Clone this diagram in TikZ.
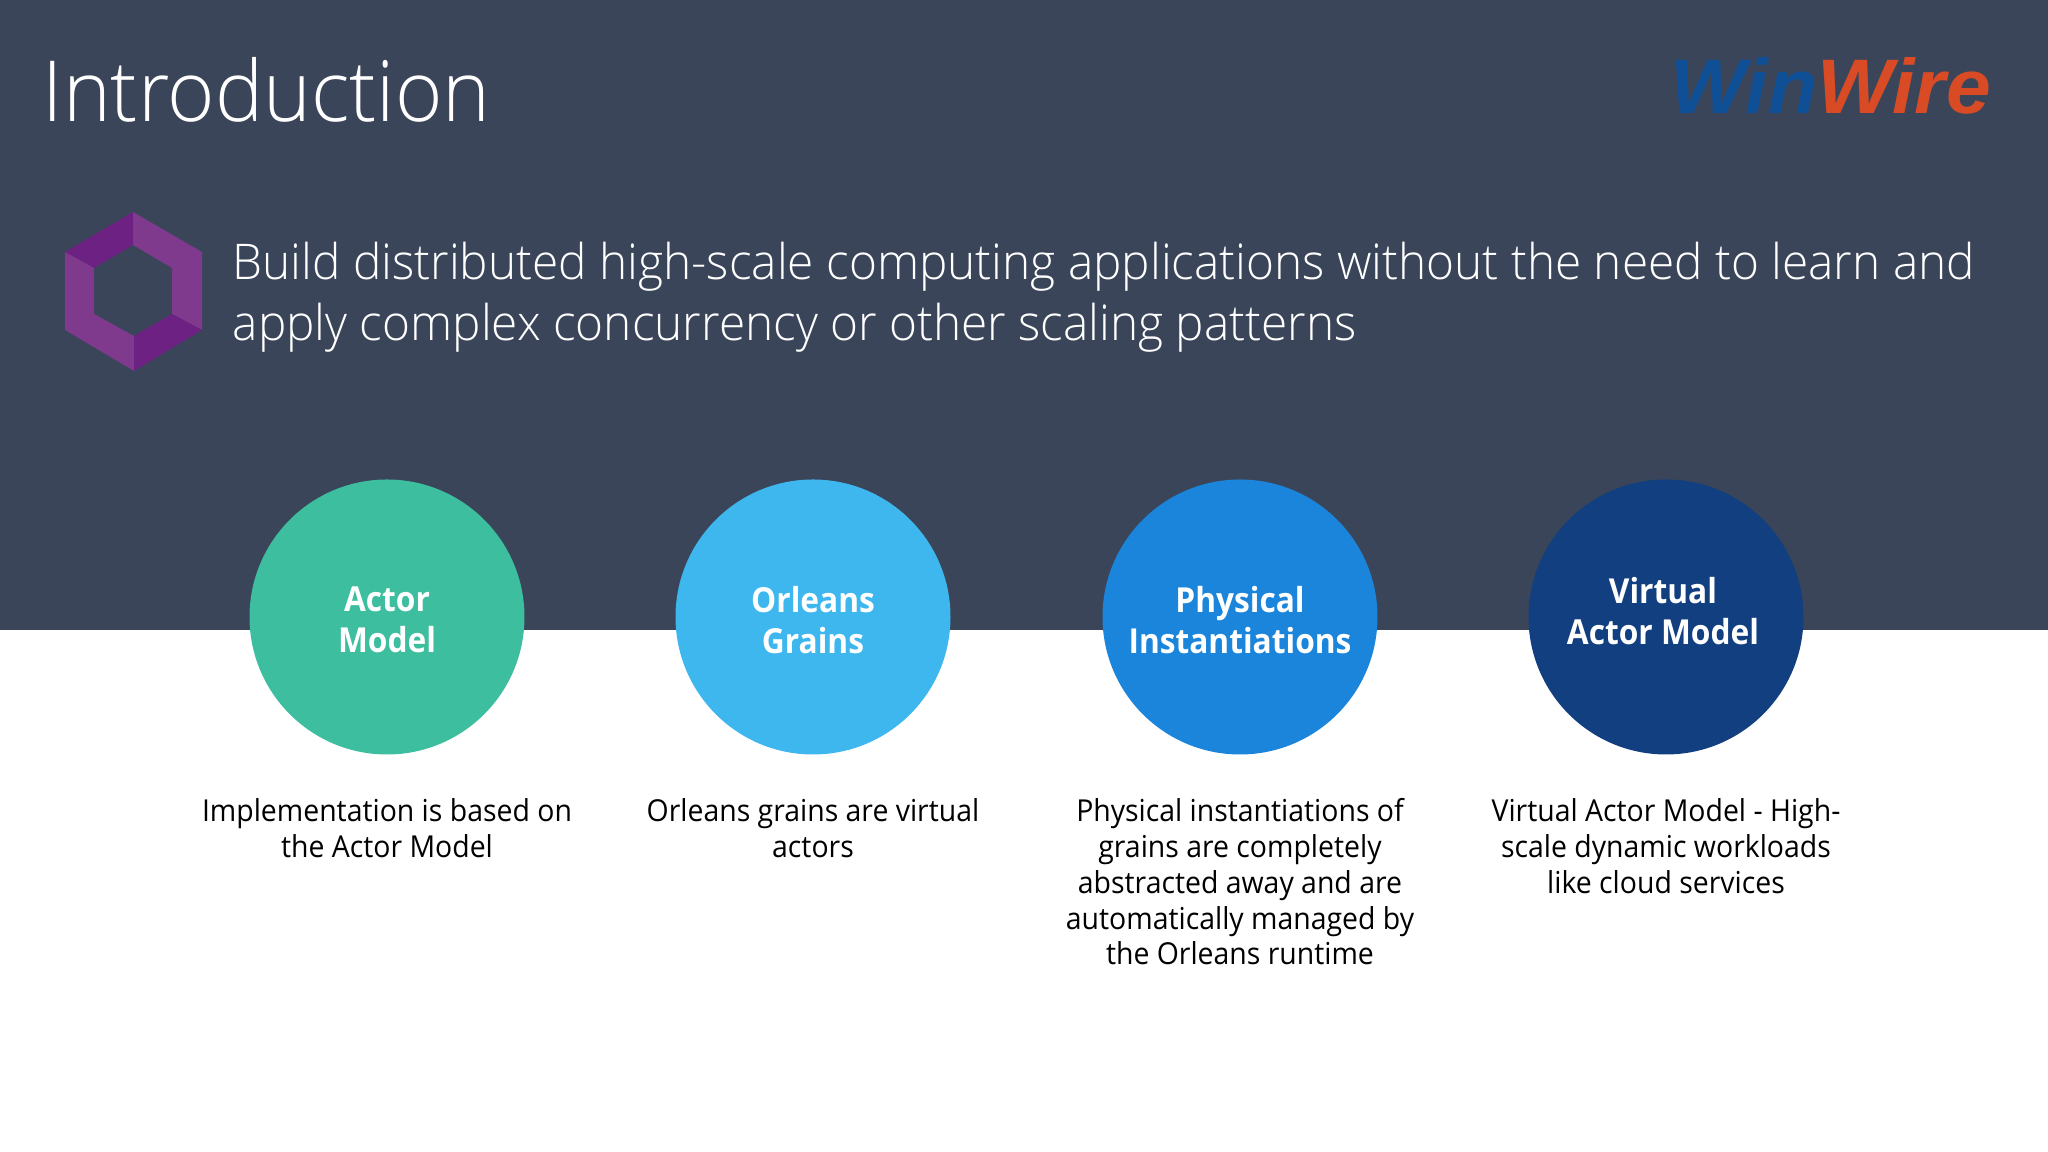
\documentclass[tikz,border=0pt]{standalone}
\usepackage{fontspec}
\setmainfont[FakeStretch=0.94]{Open Sans}
\newfontfamily\titlefont[FakeStretch=0.96]{Open Sans Light}
\newfontfamily\leadfont[FakeStretch=0.97]{Open Sans Light}
\newfontfamily\discfont[FakeStretch=0.92]{Open Sans}
\newfontfamily\logofont[FakeStretch=1.04]{Liberation Sans}
\usepackage{tikz}
\usetikzlibrary{positioning,calc}
\definecolor{bandblue}{HTML}{3A4559}
\definecolor{hexlight}{HTML}{7F3A8E}
\definecolor{hexdark}{HTML}{6C2183}
\definecolor{actorgreen}{HTML}{3CBE9F}
\definecolor{grainblue}{HTML}{3DB7EE}
\definecolor{physblue}{HTML}{1B85DB}
\definecolor{virtblue}{HTML}{123F80}
\definecolor{logoblue}{HTML}{0E4F96}
\definecolor{logored}{HTML}{D84B25}
\begin{document}
\begin{tikzpicture}[
	disc/.style={circle,minimum size=2.75cm,inner sep=0pt},
	disctext/.style={align=center,inner sep=0pt,text=white,font=\discfont\bfseries\fontsize{9.8}{11.6}\selectfont},
	caption/.style={align=center,anchor=north,font=\fontsize{8.6}{10.2}\selectfont,text=black}]
	\useasboundingbox (0,0) rectangle (20.48,11.52);
	\fill[white] (0,0) rectangle (20.48,11.52);
	\fill[bandblue] (0,5.22) rectangle (20.48,11.52);
	% hexagon
	\coordinate (ht) at (1.33,9.40);
	\coordinate (hur) at (2.02,9.00);
	\coordinate (hlr) at (2.02,8.22);
	\coordinate (hb) at (1.34,7.81);
	\coordinate (hll) at (0.65,8.22);
	\coordinate (hul) at (0.65,9.00);
	\coordinate (it) at (1.33,9.07);
	\coordinate (iur) at (1.72,8.84);
	\coordinate (ilr) at (1.72,8.38);
	\coordinate (ib) at (1.34,8.16);
	\coordinate (ill) at (0.94,8.38);
	\coordinate (iul) at (0.94,8.84);
	\fill[hexdark] (hul) -- (ht) -- (it) -- (iul) -- cycle;
	\fill[hexlight] (ht) -- (hur) -- (hlr) -- (ilr) -- (iur) -- (it) -- cycle;
	\fill[hexdark] (hlr) -- (hb) -- (ib) -- (ilr) -- cycle;
	\fill[hexlight] (hul) -- (iul) -- (ill) -- (ib) -- (hb) -- (hll) -- cycle;
	\node[anchor=west,inner sep=0pt,text=white,font=\titlefont\fontsize{24}{24}\selectfont] (title) at (0.42,10.62) {Introduction};
	\node[anchor=west,inner sep=0pt,font=\logofont\bfseries\itshape\fontsize{22}{22}\selectfont] (logo) at (16.70,10.66) {\textcolor{logoblue}{Win}\textcolor{logored}{Wire}};
	\node[anchor=north west,inner sep=0pt,text=white,align=left,font=\leadfont\fontsize{14}{17.5}\selectfont] (lead) at (2.32,9.11) {Build distributed high-scale computing applications without the need to learn and\\apply complex concurrency or other scaling patterns};
	\node[disc,fill=actorgreen] (actor) at (3.87,5.35) {};
	\node[disc,fill=grainblue] (grains) at (8.13,5.35) {};
	\node[disc,fill=physblue] (phys) at (12.40,5.35) {};
	\node[disc,fill=virtblue] (virt) at (16.66,5.35) {};
	\node[disctext,yshift=-0.03cm] (actorname) at (actor) {Actor\\Model};
	\node[disctext,yshift=-0.03cm] (grainsname) at (grains) {Orleans\\Grains};
	\node[disctext,yshift=-0.03cm] (physname) at (phys) {Physical\\Instantiations};
	\node[disctext,xshift=-0.03cm,yshift=0.06cm] (virtname) at (virt) {Virtual\\Actor Model};
	\node[caption] (actortext) at (3.87,3.66) {Implementation is based on\\the Actor Model};
	\node[caption] (grainstext) at (8.13,3.66) {Orleans grains are virtual\\actors};
	\node[caption] (phystext) at (12.40,3.66) {Physical instantiations of\\grains are completely\\abstracted away and are\\automatically managed by\\the Orleans runtime};
	\node[caption] (virttext) at (16.66,3.66) {Virtual Actor Model - High-\\scale dynamic workloads\\like cloud services};
\end{tikzpicture}
\end{document}
